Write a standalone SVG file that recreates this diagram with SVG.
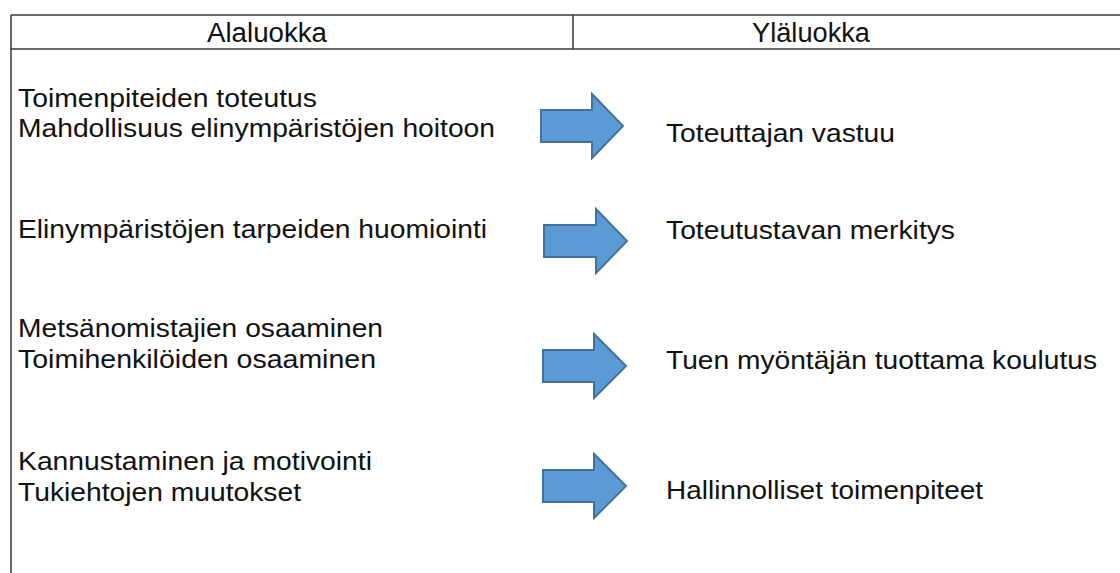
<svg xmlns="http://www.w3.org/2000/svg" width="1120" height="573" viewBox="0 0 1120 573">
<style>
.grid{stroke:#3a3a3a;stroke-width:1.5;fill:none}
.t{font-family:"Liberation Sans",Arial,sans-serif;font-size:25px;fill:#111}
.h{font-family:"Liberation Sans",Arial,sans-serif;font-size:27px;fill:#111;text-anchor:middle}
.arr{fill:#5b9bd5;stroke:#41719c;stroke-width:2;stroke-linejoin:miter}
</style>
<rect width="1120" height="573" fill="#fff"/>
<g id="table">
<line class="grid" x1="11" y1="15" x2="1120" y2="15"/>
<line class="grid" x1="11" y1="49" x2="1120" y2="49"/>
<line class="grid" x1="11" y1="15" x2="11" y2="573"/>
<line class="grid" x1="573" y1="15" x2="573" y2="49"/>
<text class="h" x="267" y="42" textLength="120" lengthAdjust="spacingAndGlyphs">Alaluokka</text>
<text class="h" x="811" y="42" textLength="118" lengthAdjust="spacingAndGlyphs">Yläluokka</text>
</g>
<g id="row1-left">
<text class="t" x="18" y="107" textLength="299" lengthAdjust="spacingAndGlyphs">Toimenpiteiden toteutus</text>
<text class="t" x="18" y="137" textLength="477" lengthAdjust="spacingAndGlyphs">Mahdollisuus elinympäristöjen hoitoon</text>
</g>
<g id="row1-right"><text class="t" x="666" y="142" textLength="229" lengthAdjust="spacingAndGlyphs">Toteuttajan vastuu</text></g>
<g id="row2-left"><text class="t" x="18" y="238" textLength="469" lengthAdjust="spacingAndGlyphs">Elinympäristöjen tarpeiden huomiointi</text></g>
<g id="row2-right"><text class="t" x="666" y="239" textLength="289" lengthAdjust="spacingAndGlyphs">Toteutustavan merkitys</text></g>
<g id="row3-left">
<text class="t" x="18" y="337" textLength="365" lengthAdjust="spacingAndGlyphs">Metsänomistajien osaaminen</text>
<text class="t" x="18" y="368" textLength="358" lengthAdjust="spacingAndGlyphs">Toimihenkilöiden osaaminen</text>
</g>
<g id="row3-right"><text class="t" x="666" y="369" textLength="431" lengthAdjust="spacingAndGlyphs">Tuen myöntäjän tuottama koulutus</text></g>
<g id="row4-left">
<text class="t" x="18" y="470" textLength="354" lengthAdjust="spacingAndGlyphs">Kannustaminen ja motivointi</text>
<text class="t" x="18" y="501" textLength="283" lengthAdjust="spacingAndGlyphs">Tukiehtojen muutokset</text>
</g>
<g id="row4-right"><text class="t" x="666" y="499" textLength="317" lengthAdjust="spacingAndGlyphs">Hallinnolliset toimenpiteet</text></g>
<g id="connectors">
<polygon class="arr" points="541,110 592,110 592,94 623,126 592,158 592,142 541,142"/>
<polygon class="arr" points="544,225 596,225 596,209 627,241 596,273 596,257 544,257"/>
<polygon class="arr" points="543,350 594,350 594,334 626,366 594,398 594,382 543,382"/>
<polygon class="arr" points="543,470 594,470 594,454 626,486 594,518 594,502 543,502"/>
</g>
</svg>
